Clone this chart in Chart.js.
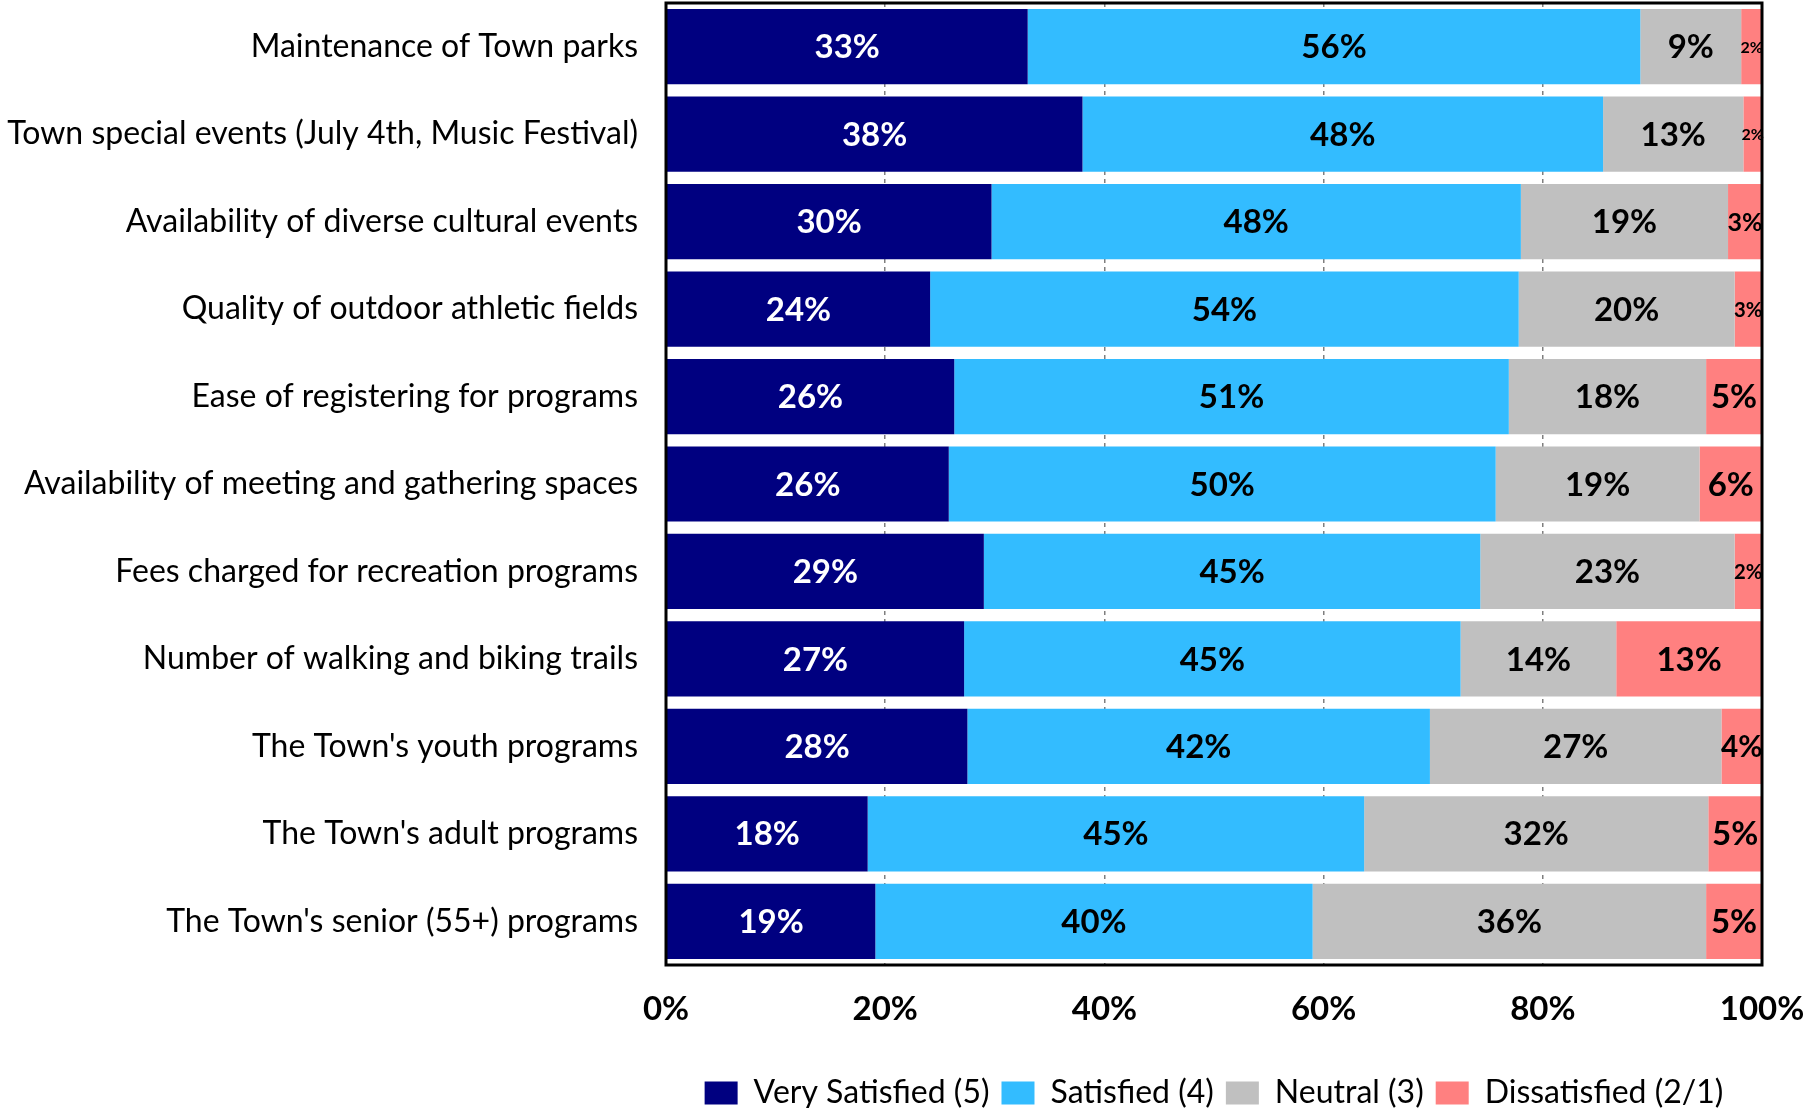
<!DOCTYPE html>
<html>
<head>
<meta charset="utf-8">
<script src="https://cdn.jsdelivr.net/npm/chart.js@4.4.1/dist/chart.umd.min.js"></script>
<style>
  html, body { margin: 0; padding: 0; background: #fff; }
  #wrap { width: 1805px; height: 1108px; position: relative; }
</style>
</head>
<body>
<div id="wrap"><canvas id="satChart"></canvas></div>
<script>
const categories = [
  "Maintenance of Town parks",
  "Town special events (July 4th, Music Festival)",
  "Availability of diverse cultural events",
  "Quality of outdoor athletic fields",
  "Ease of registering for programs",
  "Availability of meeting and gathering spaces",
  "Fees charged for recreation programs",
  "Number of walking and biking trails",
  "The Town's youth programs",
  "The Town's adult programs",
  "The Town's senior (55+) programs"
];

// bar lengths (percent)
const verySatisfied = [33.0, 38.0, 29.7, 24.1, 26.3, 25.8, 29.0, 27.2, 27.5, 18.4, 19.1];
const satisfied     = [55.9, 47.5, 48.3, 53.7, 50.6, 49.9, 45.3, 45.3, 42.2, 45.3, 39.9];
const neutral       = [9.2, 12.8, 18.9, 19.7, 18.0, 18.6, 23.2, 14.2, 26.6, 31.4, 35.9];
const dissatisfied  = [1.9, 1.7, 3.1, 2.5, 5.1, 5.7, 2.5, 13.3, 3.7, 4.9, 5.1];

// printed labels
const verySatisfiedLbl = [33, 38, 30, 24, 26, 26, 29, 27, 28, 18, 19];
const satisfiedLbl     = [56, 48, 48, 54, 51, 50, 45, 45, 42, 45, 40];
const neutralLbl       = [9, 13, 19, 20, 18, 19, 23, 14, 27, 32, 36];
const dissatisfiedLbl  = [2, 2, 3, 3, 5, 6, 2, 13, 4, 5, 5];

const xTicks = [0, 20, 40, 60, 80, 100];

const FONT = "Lato, 'Open Sans', sans-serif";

const segmentLabels = {
  id: "segmentLabels",
  afterDatasetsDraw(chart) {
    const ctx = chart.ctx;
    const area = chart.chartArea;
    // plot frame
    ctx.save();
    ctx.strokeStyle = "#000";
    ctx.lineWidth = 3;
    ctx.strokeRect(area.left, area.top, area.right - area.left, area.bottom - area.top);
    ctx.restore();

    const lblSets = [verySatisfiedLbl, satisfiedLbl, neutralLbl, dissatisfiedLbl];
    chart.data.datasets.forEach((ds, di) => {
      const meta = chart.getDatasetMeta(di);
      meta.data.forEach((bar, i) => {
        const p = bar.getProps(["x", "y", "base"], true);
        const segW = Math.abs(p.x - p.base);
        const text = lblSets[di][i] + "%";
        ctx.save();
        ctx.font = "bold 33px " + FONT;
        const w = ctx.measureText(text).width;
        let size = 33;
        if (w > segW - 4) size = Math.max(16, 33 * (segW + 1) / w);
        ctx.font = "bold " + size.toFixed(1) + "px " + FONT;
        ctx.fillStyle = di === 0 ? "#fff" : "#000";
        ctx.textAlign = "center";
        ctx.textBaseline = "middle";
        ctx.fillText(text, (p.x + p.base) / 2, p.y + 1);
        ctx.restore();
      });
    });
  }
};

const ctx = document.getElementById("satChart").getContext("2d");
new Chart(ctx, {
  type: "bar",
  data: {
    labels: categories,
    datasets: [
      { label: "Very Satisfied (5)", data: verySatisfied, backgroundColor: "#000080" },
      { label: "Satisfied (4)", data: satisfied, backgroundColor: "#33BCFF" },
      { label: "Neutral (3)", data: neutral, backgroundColor: "#C0C0C0" },
      { label: "Dissatisfied (2/1)", data: dissatisfied, backgroundColor: "#FF8080" }
    ]
  },
  options: {
    indexAxis: "y",
    responsive: true,
    maintainAspectRatio: false,
    animation: false,
    layout: { padding: { top: 3, right: 43, left: 0, bottom: -11 } },
    datasets: { bar: { categoryPercentage: 1.0, barPercentage: 0.86, borderWidth: 0 } },
    scales: {
      x: {
        stacked: true,
        min: 0,
        max: 100,
        afterBuildTicks: (scale) => { scale.ticks = xTicks.map(v => ({ value: v })); },
        afterFit: (scale) => {
          scale.height = 100;
          scale.paddingLeft = 0;
          scale.paddingRight = 0;
        },
        ticks: {
          callback: (v) => v + "%",
          color: "#000",
          padding: 25,
          maxRotation: 0,
          font: { family: FONT, size: 33, weight: "bold" }
        },
        grid: { color: "#7f7f7f", lineWidth: 1.5, drawTicks: false },
        border: { display: false, dash: [4, 4] }
      },
      y: {
        stacked: true,
        afterFit: (scale) => {
          scale.width = 666;
          scale.paddingTop = 0;
          scale.paddingBottom = 0;
        },
        ticks: {
          color: "#000",
          padding: 28,
          font: { family: FONT, size: 32 }
        },
        grid: { display: false, drawTicks: false },
        border: { display: false }
      }
    },
    plugins: {
      tooltip: { enabled: false },
      legend: {
        position: "bottom",
        fullSize: false,
        labels: {
          color: "#000",
          boxWidth: 33,
          boxHeight: 23,
          padding: 12,
          font: { family: FONT, size: 32 }
        }
      }
    }
  },
  plugins: [segmentLabels]
});
</script>
</body>
</html>
